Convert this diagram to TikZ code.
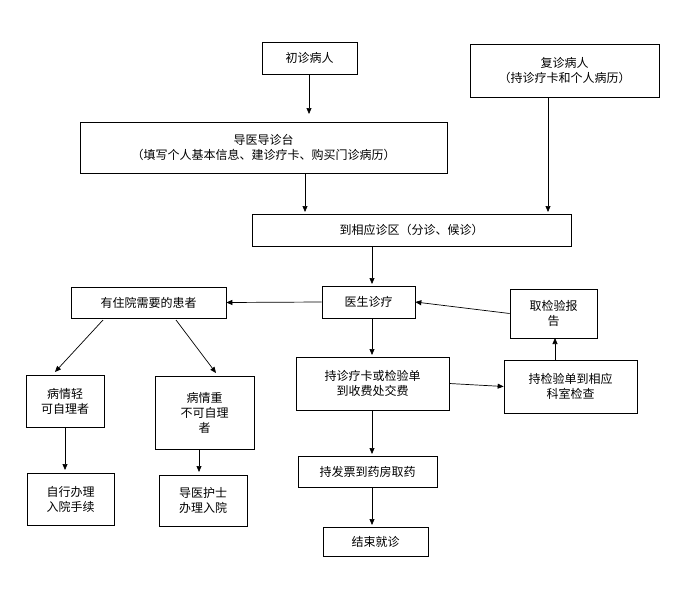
\documentclass[tikz,border=0pt]{standalone}
\usepackage{fontspec}
\setmainfont{Noto Sans CJK SC}
\usetikzlibrary{arrows.meta}
\begin{document}
\begin{tikzpicture}[x=1pt,y=-1pt,
  box/.style={draw,line width=0.7pt,inner sep=0pt,font=\fontsize{12}{15}\selectfont,align=center},
  arr/.style={-{Triangle[length=6pt,width=5pt]},line width=0.7pt}]
\useasboundingbox (0,0) rectangle (688,600);
\newcommand\bx[6]{\node[box,minimum width=#4-#2,minimum height=#5-#3] (#1) at ({(#2+#4)/2},{(#3+#5)/2}) {#6};}
\bx{a}{262}{42}{357}{74}{初诊病人}
\bx{b}{470}{44}{659}{97}{复诊病人\\（持诊疗卡和个人病历）}
\bx{c}{80}{122}{447}{173}{导医导诊台\\（填写个人基本信息、建诊疗卡、购买门诊病历）}
\bx{d}{252}{214}{571}{246}{到相应诊区（分诊、候诊）}
\bx{e}{322}{286}{415}{318}{医生诊疗}
\bx{f}{71}{287}{226}{318}{有住院需要的患者}
\bx{g}{510}{289}{597}{338}{取检验报\\告}
\bx{h}{296}{357}{449}{410}{持诊疗卡或检验单\\到收费处交费}
\bx{i}{504}{360}{637}{413}{持检验单到相应\\科室检查}
\bx{j}{26}{375}{104}{427}{病情轻\\可自理者}
\bx{k}{155}{376}{254}{449}{病情重\\不可自理\\者}
\bx{l}{298}{456}{437}{487}{持发票到药房取药}
\bx{m}{27}{473}{114}{525}{自行办理\\入院手续}
\bx{n}{159}{475}{247}{526}{导医护士\\办理入院}
\bx{o}{323}{527}{428}{556}{结束就诊}
\draw[arr] (309,74) -- (309,114);
\draw[arr] (305,173) -- (305,212);
\draw[arr] (548,97) -- (548,212);
\draw[arr] (372,246) -- (372,284);
\draw[arr] (e.west) -- (f.east);
\draw[arr] (g.west) -- (e.east);
\draw[arr] (372,318) -- (372,355);
\draw[arr] (h.east) -- (i.west);
\draw[arr] (555,360) -- (555,338);
\draw[arr] (103,320) -- (55,372);
\draw[arr] (176,320) -- (216,373);
\draw[arr] (65,427) -- (65,470);
\draw[arr] (199,449) -- (199,472);
\draw[arr] (372,410) -- (372,454);
\draw[arr] (372,487) -- (372,525);
\end{tikzpicture}
\end{document}
